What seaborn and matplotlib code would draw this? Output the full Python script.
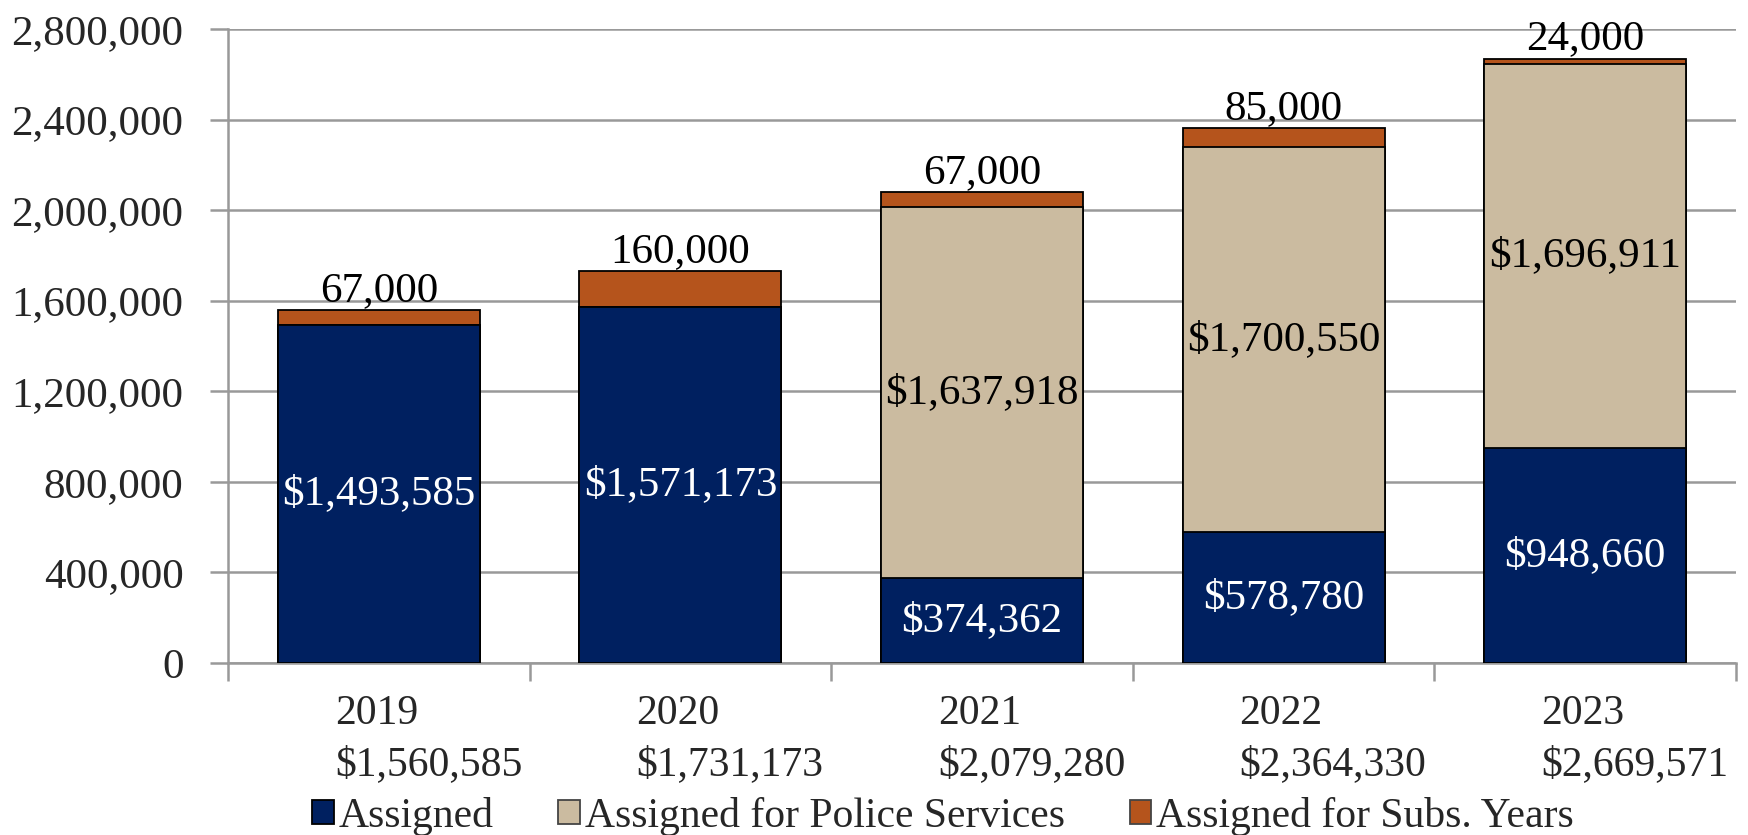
import matplotlib
matplotlib.use("Agg")
import matplotlib.pyplot as plt
import matplotlib.transforms as mtransforms
from matplotlib.patches import Patch
from matplotlib.ticker import FuncFormatter, FixedLocator
import seaborn as sns
import numpy as np
import pandas as pd

years = ["2019", "2020", "2021", "2022", "2023"]
assigned = [1493585, 1571173, 374362, 578780, 948660]
police = [0, 0, 1637918, 1700550, 1696911]
subs = [67000, 160000, 67000, 85000, 24000]
yticks = [0, 400000, 800000, 1200000, 1600000, 2000000, 2400000, 2800000]

c_assigned = "#002060"
c_police = "#CBBBA0"
c_subs = "#B5541C"

sns.set_theme(style="white")
plt.rcParams["font.family"] = ["Liberation Serif", "DejaVu Serif"]
FS_Y = 31
FS_X = 30
FS_LAB = 31
FS_LEG = 30

a = np.array(assigned)
p = np.array(police)
s = np.array(subs)
df = pd.DataFrame({"year": years, "total": a + p + s, "ap": a + p, "a": a})

fig = plt.figure(figsize=(17.49, 8.35), dpi=100)
ax = fig.add_axes([228 / 1749, 1 - 663 / 835, (1736 - 228) / 1749, (663 - 29) / 835])

kw = dict(x="year", width=0.67, edgecolor="black", linewidth=1.3, ax=ax, zorder=3)
sns.barplot(data=df, y="total", color=c_subs, saturation=1, **kw)
sns.barplot(data=df, y="ap", color=c_police, saturation=1, **kw)
sns.barplot(data=df, y="a", color=c_assigned, saturation=1, **kw)

ax.set_xlim(-0.5, 4.5)
ax.set_ylim(0, 2800000)
ax.set_yticks(yticks)
ax.yaxis.set_major_formatter(FuncFormatter(lambda v, _: f"{int(v):,}"))
ax.grid(axis="y", color="#999999", linewidth=1.8, zorder=0)
ax.set_axisbelow(True)
ax.set_xlabel("")
ax.set_ylabel("")
for sp in ["top", "right"]:
    ax.spines[sp].set_visible(False)
for sp in ["left", "bottom"]:
    ax.spines[sp].set_color("#999999")
    ax.spines[sp].set_linewidth(1.8)
ax.tick_params(axis="y", which="major", length=13, width=1.8, color="#999999",
               labelsize=FS_Y, pad=19, left=True)

# x labels: year + total
totals = a + p + s
ax.set_xticks(range(len(years)))
ax.set_xticklabels([f"{y}\n${t:,}" for y, t in zip(years, totals)])
ax.tick_params(axis="x", which="major", length=0, labelsize=FS_X, pad=23)
offset = mtransforms.ScaledTranslation(-0.44, 0, fig.dpi_scale_trans)
for lab in ax.get_xticklabels():
    lab.set_horizontalalignment("left")
    lab.set_multialignment("left")
    lab.set_linespacing(1.42)
    lab.set_transform(lab.get_transform() + offset)
ax.xaxis.set_minor_locator(FixedLocator(np.arange(-0.5, 5.0, 1.0)))
ax.tick_params(axis="x", which="minor", length=13, width=1.8, color="#999999", bottom=True)

# data labels
for i in range(len(years)):
    ax.text(i, a[i] / 2, f"${a[i]:,}", ha="center", va="center", color="white",
            fontsize=FS_LAB, zorder=5)
    if p[i] > 0:
        ax.text(i, a[i] + p[i] / 2, f"${p[i]:,}", ha="center", va="center",
                color="black", fontsize=FS_LAB, zorder=5)
    ax.text(i, totals[i], f"{s[i]:,}", ha="center", va="bottom", color="black",
            fontsize=FS_LAB, zorder=5)

handles = [Patch(facecolor=c_assigned, edgecolor="black", linewidth=1.3),
           Patch(facecolor=c_police, edgecolor="#444444", linewidth=1.3),
           Patch(facecolor=c_subs, edgecolor="#444444", linewidth=1.3)]
fig.legend(handles, ["Assigned", "Assigned for Police Services", "Assigned for Subs. Years"],
           loc="center", bbox_to_anchor=(943 / 1749, 1 - 816 / 835), ncol=3, frameon=False,
           fontsize=FS_LEG, handlelength=0.52, handleheight=0.5, handletextpad=0.12,
           columnspacing=1.55, borderaxespad=0, borderpad=0)

fig.savefig("out.png", dpi=100)
